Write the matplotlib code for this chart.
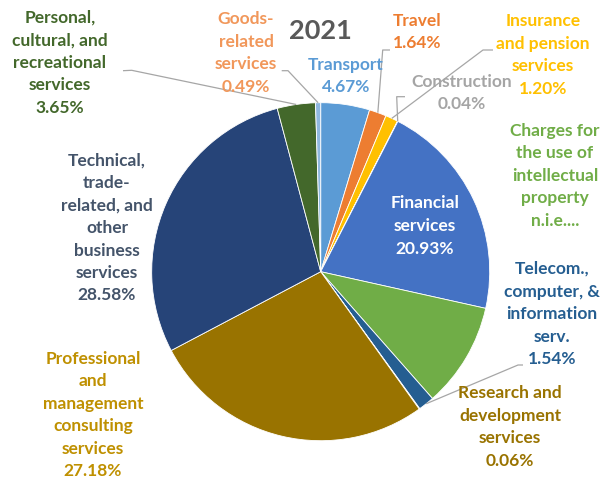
import matplotlib
matplotlib.use("Agg")
import matplotlib.pyplot as plt
import numpy as np

plt.rcParams['font.family'] = ['Lato', 'DejaVu Sans']

# ---- data ----
categories = ["Transport", "Travel", "Insurance and pension services", "Construction",
              "Financial services", "Charges for the use of intellectual property n.i.e.",
              "Telecom., computer, & information serv.", "Research and development services",
              "Professional and management consulting services",
              "Technical, trade-related, and other business services",
              "Personal, cultural, and recreational services", "Goods-related services"]
shares = [4.67, 1.64, 1.20, 0.04, 20.93, 10.02, 1.54, 0.06, 27.18, 28.58, 3.65, 0.49]
label_texts = ["Transport\n4.67%", "Travel\n1.64%", "Insurance\nand pension\nservices\n1.20%",
               "Construction\n0.04%", "Financial\nservices\n20.93%",
               "Charges for\nthe use of\nintellectual\nproperty\nn.i.e....",
               "Telecom.,\ncomputer, &\ninformation\nserv.\n1.54%",
               "Research and\ndevelopment\nservices\n0.06%",
               "Professional\nand\nmanagement\nconsulting\nservices\n27.18%",
               "Technical,\ntrade-\nrelated, and\nother\nbusiness\nservices\n28.58%",
               "Personal,\ncultural, and\nrecreational\nservices\n3.65%",
               "Goods-\nrelated\nservices\n0.49%"]
title = "2021"

# ---- styles ----
slice_colors = ["#5B9BD5", "#ED7D31", "#FFC000", "#A5A5A5", "#4472C4", "#70AD47",
                "#255E91", "#9E480E", "#997300", "#264478", "#43682B", "#8FB8E0"]
text_colors = ["#5B9BD5", "#ED7D31", "#FFC000", "#A5A5A5", "#FFFFFF", "#70AD47",
               "#255E91", "#997300", "#BF9000", "#44546A", "#43682B", "#F1975A"]
# label centres in pixel coords (x, y from top)
label_pos = [(346, 76), (417, 32), (543, 55), (462, 93), (425, 226), (555, 176),
             (552, 314), (510, 427), (93, 415), (107, 228), (60, 63), (246, 53)]
# leader lines: index -> (start, elbow) in pixel coords
leaders = {1: ((390, 50), (382.7, 50)), 2: ((493, 50), (483, 50)),
           3: ((405, 96.7), (396.7, 96.7)), 6: ((523, 365), (518, 365)),
           10: ((123, 70.7), (131.7, 70.3)), 11: ((281.7, 70.7), (288, 70.7))}

W, H = 610, 484
fig = plt.figure(figsize=(W / 100, H / 100), dpi=100)
ax = fig.add_axes([0, 0, 1, 1])

cx, cy, R = 320.7, H - 271.7, 169
wedges, _ = ax.pie(shares, colors=slice_colors, startangle=90, counterclock=False,
                   center=(cx, cy), radius=R, frame=True,
                   wedgeprops=dict(edgecolor="white", linewidth=0.6))
ax.set_xlim(0, W)
ax.set_ylim(0, H)
ax.set_aspect("equal")
ax.axis("off")

for i, (txt, col, (px, py)) in enumerate(zip(label_texts, text_colors, label_pos)):
    ax.text(px, H - py, txt, color=col, fontsize=12.5, fontweight="bold",
            ha="center", va="center", linespacing=1.5, multialignment="center")

for i, (start, elbow) in leaders.items():
    w = wedges[i]
    mid = np.deg2rad((w.theta1 + w.theta2) / 2)
    ex, ey = cx + R * np.cos(mid), cy + R * np.sin(mid)
    ax.plot([start[0], elbow[0], ex], [H - start[1], H - elbow[1], ey],
            color="#A6A6A6", lw=0.9, solid_capstyle="butt")

ax.text(320, H - 31, title, color="#595959", fontsize=19.5, fontweight="bold",
        ha="center", va="center")

fig.savefig("out.png", dpi=100)
